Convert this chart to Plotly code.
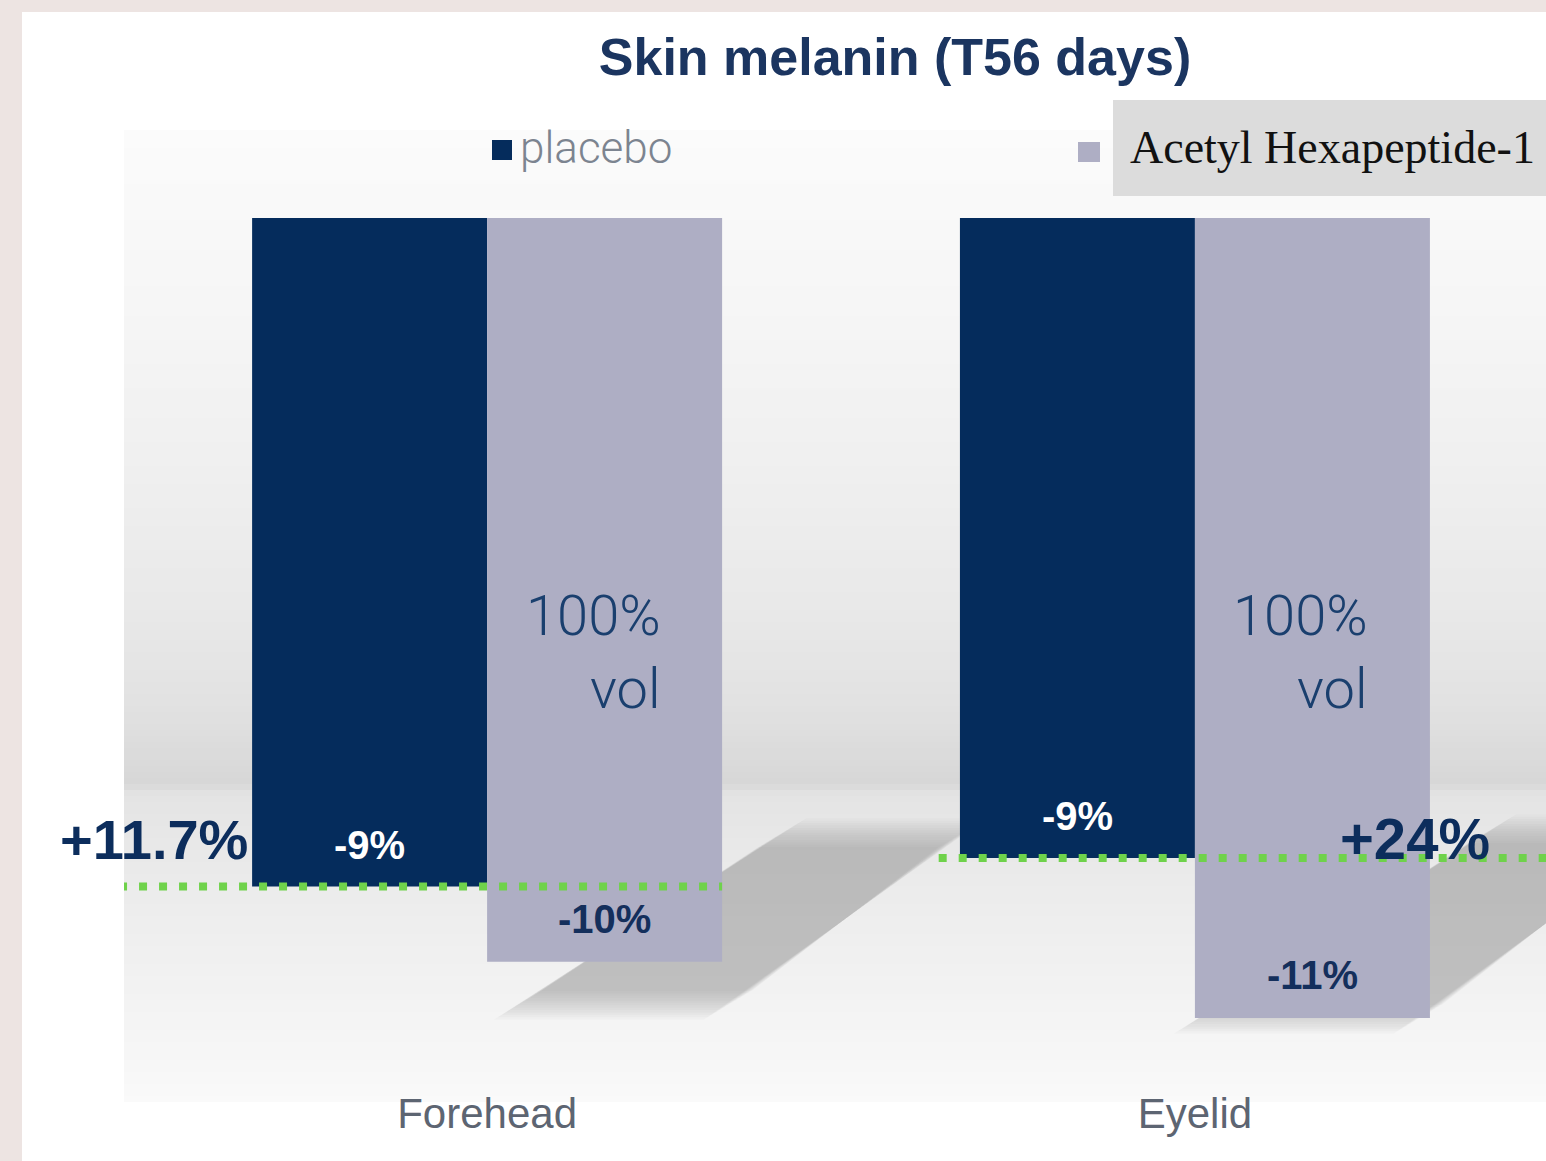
import plotly.graph_objects as go

# --- data ---
categories = ["Forehead", "Eyelid"]
placebo = [-9.16, -8.77]
acetyl = [-10.19, -10.96]
placebo_labels = ["-9%", "-9%"]
acetyl_labels = ["-10%", "-11%"]
gain_labels = ["+11.7%", "+24%"]
series_names = ["placebo", "Acetyl Hexapeptide-1"]

W, H = 1546, 1161
ML, MR, MT, MB = 124, 0, 218, 81
BARGAP = 0.336
NAVY = "#052c5c"
LAVENDER = "#aeaec4"
GREEN = "#6fd24b"


def px(x):
    # figure pixel -> paper x
    return (x - ML) / (W - ML - MR)


def py(y):
    # figure pixel -> paper y
    return (H - MB - y) / (H - MT - MB)


xs = list(range(len(categories)))
w = (1 - BARGAP) / 2

fig = go.Figure()
fig.add_trace(go.Bar(x=xs, y=placebo, name=series_names[0], marker_color=NAVY,
                     marker_line_width=0, showlegend=False))
fig.add_trace(go.Bar(x=xs, y=acetyl, name=series_names[1], marker_color=LAVENDER,
                     marker_line_width=0, showlegend=False))

# dotted green reference lines at the placebo level
line_spans = [(-0.52, xs[0] + w), (xs[1] - w - 0.03, 1.6)]
for (x0, x1), yv in zip(line_spans, placebo):
    fig.add_trace(go.Scatter(x=[x0, x1], y=[yv, yv], mode="lines",
                             line=dict(color=GREEN, width=8, dash="8px,12px"),
                             showlegend=False, hoverinfo="skip", cliponaxis=False))

shapes = []
# white card on beige background
shapes.append(dict(type="rect", xref="paper", yref="paper", layer="below",
                   x0=px(22), x1=px(W + 5), y0=py(12), y1=py(H + 5),
                   fillcolor="white", line_width=0))

# grey gradient panel behind the bars
stops = [(130, 251), (300, 246), (450, 240), (600, 233), (700, 226),
         (780, 215), (792, 228), (850, 233), (950, 240), (1050, 246), (1102, 250)]
step = 6
y = 130
while y < 1102:
    for (ya, ga), (yb, gb) in zip(stops[:-1], stops[1:]):
        if ya <= y < yb:
            g = int(round(ga + (gb - ga) * (y - ya) / (yb - ya)))
            break
    shapes.append(dict(type="rect", xref="paper", yref="paper", layer="below",
                       x0=px(124), x1=px(W + 5), y0=py(y), y1=py(min(y + step, 1102)),
                       fillcolor=f"rgb({g},{g},{g})", line_width=0))
    y += step

# soft drop shadows of the bars (stacked translucent layers fake a blur)
shadow_polys = [
    [(770, 840), (950, 840), (740, 998), (530, 998)],
    [(1480, 836), (1660, 836), (1430, 1012), (1210, 1012)],
]
for poly in shadow_polys:
    cx = sum(p[0] for p in poly) / 4
    cy = sum(p[1] for p in poly) / 4
    for grow in range(36, -13, -4):
        pts = []
        for (x0, y0) in poly:
            dx = grow if x0 > cx else -grow
            dy = grow * 0.6 if y0 > cy else -grow * 0.6
            pts.append((px(x0 + dx), py(y0 + dy)))
        path = "M " + " L ".join(f"{a:.5f},{b:.5f}" for a, b in pts) + " Z"
        shapes.append(dict(type="path", xref="paper", yref="paper", layer="below",
                           path=path, fillcolor="rgba(120,120,120,0.04)", line_width=0))

# legend markers and grey box
shapes.append(dict(type="rect", xref="paper", yref="paper", layer="below",
                   x0=px(492), x1=px(512), y0=py(140), y1=py(160),
                   fillcolor=NAVY, line_width=0))
shapes.append(dict(type="rect", xref="paper", yref="paper", layer="above",
                   x0=px(1113), x1=px(W + 5), y0=py(100), y1=py(196),
                   fillcolor="#dcdcdc", line_width=0))
shapes.append(dict(type="rect", xref="paper", yref="paper", layer="below",
                   x0=px(1078), x1=px(1100), y0=py(142), y1=py(162),
                   fillcolor=LAVENDER, line_width=0))

annotations = []
annotations.append(dict(text=series_names[0], xref="paper", yref="paper",
                        x=px(518), y=py(148), xanchor="left", yanchor="middle",
                        showarrow=False,
                        font=dict(family="Roboto", size=44, weight=300, color="#7c8490")))
annotations.append(dict(text=series_names[1], xref="paper", yref="paper",
                        x=px(1128), y=py(147), xanchor="left", yanchor="middle",
                        showarrow=False,
                        font=dict(family="Liberation Serif", size=46, color="#111111")))

for i in xs:
    # value labels inside the bars, near their ends
    annotations.append(dict(text=placebo_labels[i], x=i - w / 2, y=placebo[i],
                            xref="x", yref="y", yanchor="middle", yshift=42,
                            showarrow=False,
                            font=dict(family="Liberation Sans", size=40, weight="bold",
                                      color="white")))
    annotations.append(dict(text=acetyl_labels[i], x=i + w / 2, y=acetyl[i],
                            xref="x", yref="y", yanchor="middle", yshift=43,
                            showarrow=False,
                            font=dict(family="Liberation Sans", size=40, weight="bold",
                                      color="#142f5c")))
    annotations.append(dict(text="100%<br>vol", x=i + w / 2, y=-5.95,
                            xref="x", yref="y", xanchor="right", yanchor="middle",
                            xshift=58, align="right", showarrow=False,
                            font=dict(family="Roboto", size=56, weight=300,
                                      color="#1a3f6e")))

annotations.append(dict(text=gain_labels[0], x=xs[0] - w, y=placebo[0],
                        xref="x", yref="y", xanchor="right", yanchor="middle",
                        xshift=-2, yshift=47, showarrow=False,
                        font=dict(family="Liberation Sans", size=56, weight="bold",
                                  color="#0c2d5c")))
annotations.append(dict(text=gain_labels[1], x=xs[1] + w / 2, y=placebo[1],
                        xref="x", yref="y", xanchor="center", yanchor="middle",
                        xshift=103, yshift=20, showarrow=False,
                        font=dict(family="Liberation Sans", size=58, weight="bold",
                                  color="#0c2d5c")))

fig.update_layout(
    width=W, height=H,
    margin=dict(l=ML, r=MR, t=MT, b=MB),
    paper_bgcolor="#ede4e2",
    plot_bgcolor="rgba(0,0,0,0)",
    barmode="group", bargap=BARGAP, bargroupgap=0,
    title=dict(text="Skin melanin (T56 days)", x=895 / W, xanchor="center",
               y=1 - 57 / H, yanchor="middle",
               font=dict(family="Liberation Sans", size=52, weight="bold",
                         color="#1b3560")),
    xaxis=dict(range=[-0.513, 1.496], tickvals=xs, ticktext=categories,
               showgrid=False, zeroline=False, showline=False, ticks="",
               ticklabelstandoff=5,
               tickfont=dict(family="Liberation Sans", size=42, color="#5d6572")),
    yaxis=dict(range=[-11.81, 0], visible=False, showgrid=False, zeroline=False),
    shapes=shapes,
    annotations=annotations,
    showlegend=False,
)

# drop the default page margin so the figure sits at the window origin
fig.write_html("out.html", config={"displayModeBar": False},
               post_script="document.body.style.margin='0';")
